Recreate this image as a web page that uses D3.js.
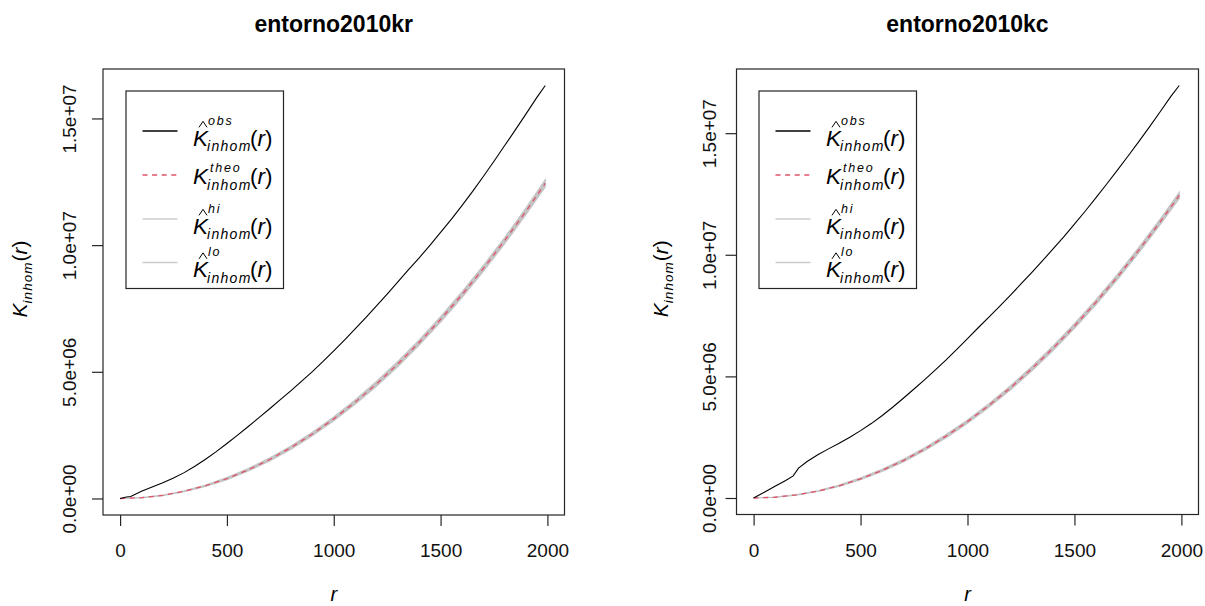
<!DOCTYPE html>
<html>
<head>
<meta charset="utf-8">
<script src="https://cdn.jsdelivr.net/npm/d3@7"></script>
<style>
  body { margin: 0; background: #fff; }
  svg { display: block; font-family: "Liberation Sans", Arial, sans-serif; }
</style>
</head>
<body>
<svg id="chart" width="1205" height="606"></svg>
<script>
// ---- data -------------------------------------------------------------
const titles = ["entorno2010kr", "entorno2010kc"];

const xTicks = [0, 500, 1000, 1500, 2000];
const xTickLabels = ["0", "500", "1000", "1500", "2000"];
const yTicks = [0, 5e6, 1e7, 1.5e7];
const yTickLabels = ["0.0e+00", "5.0e+06", "1.0e+07", "1.5e+07"];
const rLimits = [0, 2000];

// observed K (units of 1e6), entorno2010kr
const rObsKr = [0, 30, 50, 100, 150, 200, 250, 300, 350, 400, 450, 500, 550, 600, 650, 700,
  750, 800, 850, 900, 950, 1000, 1050, 1100, 1150, 1200, 1250, 1300, 1350, 1400, 1450,
  1500, 1550, 1600, 1650, 1700, 1750, 1800, 1850, 1900, 1950, 1990];
const obsKr = [0, 0.06, 0.08, 0.29, 0.45, 0.62, 0.81, 1.02, 1.27, 1.55, 1.85, 2.17, 2.50,
  2.84, 3.19, 3.54, 3.90, 4.26, 4.63, 5.01, 5.41, 5.83, 6.25, 6.69, 7.14, 7.60, 8.07,
  8.55, 9.03, 9.50, 9.99, 10.50, 11.02, 11.56, 12.12, 12.71, 13.31, 13.93, 14.55,
  15.18, 15.82, 16.30];

// observed K (units of 1e6), entorno2010kc
const rObsKc = [0, 50, 100, 150, 185, 210, 250, 300, 350, 400, 450, 500, 550, 600, 650,
  700, 750, 800, 850, 900, 950, 1000, 1050, 1100, 1150, 1200, 1250, 1300, 1350, 1400,
  1450, 1500, 1550, 1600, 1650, 1700, 1750, 1800, 1850, 1900, 1950, 1990];
const obsKc = [0, 0.24, 0.48, 0.72, 0.91, 1.23, 1.50, 1.78, 2.02, 2.25, 2.50, 2.77, 3.06,
  3.38, 3.73, 4.10, 4.48, 4.87, 5.27, 5.68, 6.11, 6.55, 7.00, 7.44, 7.88, 8.33, 8.80,
  9.27, 9.75, 10.24, 10.74, 11.26, 11.79, 12.34, 12.90, 13.47, 14.05, 14.64, 15.25,
  15.87, 16.50, 16.96];

// theoretical K and simulation envelope (units of 1e6)
const rBand = [0, 100, 200, 300, 400, 500, 600, 700, 800, 900, 1000, 1100, 1200, 1300,
  1400, 1500, 1600, 1700, 1800, 1900, 1990];
const theoK = [0, 0.031, 0.126, 0.283, 0.503, 0.785, 1.131, 1.539, 2.011, 2.545, 3.142,
  3.801, 4.524, 5.309, 6.158, 7.069, 8.042, 9.079, 10.179, 11.341, 12.441];
const hiKr = [0, 0.036, 0.138, 0.300, 0.530, 0.830, 1.180, 1.600, 2.075, 2.615, 3.220,
  3.885, 4.615, 5.405, 6.260, 7.175, 8.155, 9.195, 10.300, 11.470, 12.580];
const loKr = [0, 0.027, 0.114, 0.265, 0.475, 0.745, 1.085, 1.480, 1.945, 2.475, 3.065,
  3.715, 4.430, 5.210, 6.055, 6.960, 7.925, 8.960, 10.055, 11.210, 12.300];
const hiKc = [0, 0.035, 0.136, 0.298, 0.528, 0.826, 1.176, 1.592, 2.068, 2.608, 3.212,
  3.876, 4.606, 5.398, 6.250, 7.165, 8.145, 9.185, 10.290, 11.460, 12.570];
const loKc = [0, 0.028, 0.116, 0.267, 0.477, 0.748, 1.088, 1.485, 1.952, 2.482, 3.072,
  3.725, 4.440, 5.220, 6.065, 6.972, 7.938, 8.972, 10.070, 11.225, 12.315];

const legendRows = [
  { sup: "obs", hat: true },
  { sup: "theo", hat: false },
  { sup: "hi", hat: true },
  { sup: "lo", hat: true }
];

// ---- layout -----------------------------------------------------------
const COL = { obs: "#000000", theo: "#DF536B", band: "#c4c4c4", legGrey: "#cccccc", box: "#262626" };
const FONT = "'Liberation Sans', Arial, sans-serif";
const SCALE = 1e6;

const panels = [
  { title: titles[0], r: rObsKr, obs: obsKr, hi: hiKr, lo: loKr,
    box: { x0: 103, y0: 69, x1: 564.5, y1: 515 }, yTickGap: 27, yLabX: 27, legX: 126 },
  { title: titles[1], r: rObsKc, obs: obsKc, hi: hiKc, lo: loKc,
    box: { x0: 736.5, y0: 69, x1: 1198.5, y1: 514.5 }, yTickGap: 21, yLabX: 668, legX: 759 }
];

const svg = d3.select("#chart");

// K with optional hat, sub- and superscript, followed by "(r)"
function drawKExpr(g, x, base, sup, hat, sizes) {
  const t = g.append("text").attr("font-family", FONT).attr("fill", "#000");
  t.append("tspan").attr("x", x).attr("y", base).attr("font-style", "italic")
    .attr("font-size", sizes.k).text("K");
  if (hat) {
    const top = base - sizes.k * 0.74;
    g.append("path")
      .attr("d", `M${x + 6},${top - 1.5} L${x + 10},${top - 7.5} L${x + 14},${top - 1.5}`)
      .attr("fill", "none").attr("stroke", "#000").attr("stroke-width", 1);
  }
  if (sup) {
    g.append("text").attr("x", x + sizes.supDx).attr("y", base - sizes.supUp)
      .attr("font-family", FONT).attr("font-style", "italic").attr("font-size", sizes.sup)
      .attr("letter-spacing", 1.8).text(sup);
  }
  g.append("text").attr("x", x + 14).attr("y", base + sizes.subDown)
    .attr("font-family", FONT).attr("font-style", "italic").attr("font-size", sizes.sub)
    .attr("letter-spacing", 1.3).text("inhom");
  const p = g.append("text").attr("x", x + sizes.parDx).attr("y", base)
    .attr("font-family", FONT).attr("font-size", sizes.k);
  p.append("tspan").text("(");
  p.append("tspan").attr("font-style", "italic").text("r");
  p.append("tspan").text(")");
}

panels.forEach(P => {
  const b = P.box;
  const [r0, r1] = rLimits;
  const rPad = (r1 - r0) * 0.04;
  const x = d3.scaleLinear().domain([r0 - rPad, r1 + rPad]).range([b.x0, b.x1]);

  const yMax = d3.max([...P.obs, ...P.hi, ...theoK]) * SCALE;
  const yPad = yMax * 0.04;
  const y = d3.scaleLinear().domain([-yPad, yMax + yPad]).range([b.y1, b.y0]);

  const g = svg.append("g");

  // envelope band
  const band = rBand.map((r, i) => ({ r, hi: P.hi[i] * SCALE, lo: P.lo[i] * SCALE }));
  g.append("path").datum(band)
    .attr("d", d3.area().x(d => x(d.r)).y0(d => y(d.lo)).y1(d => y(d.hi)))
    .attr("fill", COL.band).attr("stroke", COL.band).attr("stroke-width", 1.2);

  // theoretical curve
  g.append("path").datum(rBand.map((r, i) => ({ r, v: theoK[i] * SCALE })))
    .attr("d", d3.line().x(d => x(d.r)).y(d => y(d.v)))
    .attr("fill", "none").attr("stroke", COL.theo).attr("stroke-width", 1.3)
    .attr("stroke-dasharray", "5,4.6");

  // observed curve
  g.append("path").datum(P.r.map((r, i) => ({ r, v: P.obs[i] * SCALE })))
    .attr("d", d3.line().x(d => x(d.r)).y(d => y(d.v)))
    .attr("fill", "none").attr("stroke", COL.obs).attr("stroke-width", 1.1);

  // plot frame
  g.append("rect").attr("x", b.x0).attr("y", b.y0)
    .attr("width", b.x1 - b.x0).attr("height", b.y1 - b.y0)
    .attr("fill", "none").attr("stroke", COL.box).attr("stroke-width", 1.2);

  // x axis
  const xa = g.append("g").attr("transform", `translate(0,${b.y1})`)
    .call(d3.axisBottom(x).tickValues(xTicks).tickSize(11).tickSizeOuter(0)
      .tickFormat((d, i) => xTickLabels[i]));
  xa.select(".domain").remove();
  xa.selectAll(".tick line").attr("stroke", COL.box).attr("stroke-width", 1.2);
  xa.selectAll(".tick text").attr("y", 42).attr("dy", null)
    .attr("font-family", FONT).attr("font-size", 19).attr("fill", "#111");

  // y axis
  const ya = g.append("g").attr("transform", `translate(${b.x0},0)`)
    .call(d3.axisLeft(y).tickValues(yTicks).tickSize(11).tickSizeOuter(0)
      .tickFormat((d, i) => yTickLabels[i]));
  ya.select(".domain").remove();
  ya.selectAll(".tick line").attr("stroke", COL.box).attr("stroke-width", 1.2);
  ya.selectAll(".tick text").attr("x", 0).attr("y", 0).attr("dy", null)
    .attr("transform", `translate(${-P.yTickGap},0) rotate(-90)`)
    .attr("text-anchor", "middle")
    .attr("font-family", FONT).attr("font-size", 19).attr("fill", "#111");

  // title
  g.append("text").attr("x", (b.x0 + b.x1) / 2).attr("y", 32)
    .attr("text-anchor", "middle").attr("font-family", FONT)
    .attr("font-weight", "bold").attr("font-size", 23).text(P.title);

  // x label
  g.append("text").attr("x", (b.x0 + b.x1) / 2).attr("y", 601)
    .attr("text-anchor", "middle").attr("font-family", FONT)
    .attr("font-style", "italic").attr("font-size", 20).text("r");

  // y label: K_inhom(r)
  const yl = g.append("text")
    .attr("transform", `translate(${P.yLabX},${(b.y0 + b.y1) / 2 - 13}) rotate(-90)`)
    .attr("text-anchor", "middle").attr("font-family", FONT).attr("font-size", 21);
  yl.append("tspan").attr("font-style", "italic").text("K");
  yl.append("tspan").attr("font-style", "italic").attr("font-size", 13.5)
    .attr("dy", 5).attr("letter-spacing", 1).text("inhom");
  yl.append("tspan").attr("dy", -5).text("(");
  yl.append("tspan").attr("font-style", "italic").text("r");
  yl.append("tspan").text(")");

  // legend
  const L = P.legX;
  const lg = g.append("g");
  lg.append("rect").attr("x", L).attr("y", 91).attr("width", 157.5).attr("height", 197.5)
    .attr("fill", "#fff").attr("stroke", COL.box).attr("stroke-width", 1.2);
  const rowY = [131, 175, 219, 262.5];
  const rowStyle = [
    { stroke: COL.obs, dash: null, w: 1.3 },
    { stroke: COL.theo, dash: "5,4.6", w: 1.3 },
    { stroke: COL.legGrey, dash: null, w: 1.6 },
    { stroke: COL.legGrey, dash: null, w: 1.6 }
  ];
  legendRows.forEach((row, i) => {
    const ly = rowY[i];
    lg.append("line").attr("x1", L + 16.5).attr("x2", L + 51.5).attr("y1", ly).attr("y2", ly)
      .attr("stroke", rowStyle[i].stroke).attr("stroke-width", rowStyle[i].w)
      .attr("stroke-dasharray", rowStyle[i].dash);
    const base = row.hat ? ly + 14.5 : ly + 9;
    drawKExpr(lg, L + 67, base, row.sup, row.hat,
      { k: 22.5, sub: 14, sup: 12.5, subDown: 5.5, supUp: row.hat ? 21 : 12,
        supDx: row.hat ? 15 : 17, parDx: 57 });
  });
});
</script>
</body>
</html>
